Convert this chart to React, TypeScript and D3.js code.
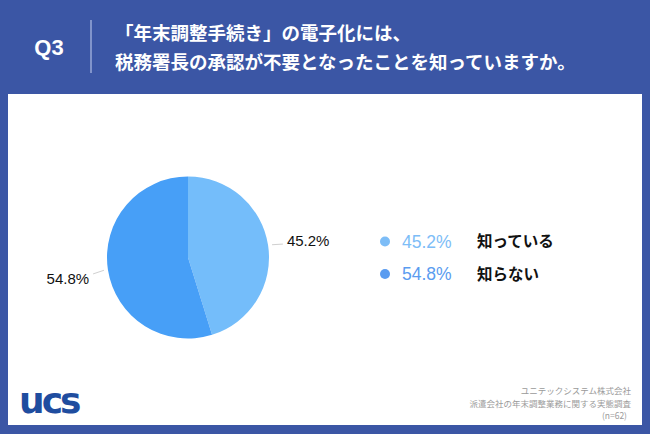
import React from "react";
import * as d3 from "d3";

const categories = ["知っている", "知らない"];
const values = [45.2, 54.8];
const titleLines = ["「年末調整手続き」の電子化には、", "税務署長の承認が不要となったことを知っていますか。"];
const questionLabel = "Q3";
const sourceLines = ["ユニテックシステム株式会社", "派遣会社の年末調整業務に関する実態調査", "(n=62)"];

const W = 650;
const H = 434;
const sliceColors = ["#74bdfa", "#479ff7"];
const legendColors = ["#7dbdf7", "#5a9cf0"];
const frame = "#3b56a5";
const cjk = "'Noto Sans CJK JP', 'Noto Sans', sans-serif";
const latin = "'Liberation Sans', Arial, sans-serif";

export default function App() {
  const cx = 188;
  const cy = 257.5;
  const r = 81;
  const pie = d3.pie<number>().sort(null).value((d) => d).startAngle(0).endAngle(2 * Math.PI);
  const arcs = pie(values);
  const arc = d3.arc<d3.PieArcDatum<number>>().innerRadius(0).outerRadius(r);
  const fmt = (v: number) => `${v.toFixed(1)}%`;

  return (
    <svg width={W} height={H} style={{ position: "absolute", left: 0, top: 0 }}>
      <rect x={0} y={0} width={W} height={H} fill={frame} />
      <rect x={8} y={94} width={634} height={331} fill="#ffffff" />
      <text x={49} y={55} textAnchor="middle" fill="#fff" fontFamily={latin} fontWeight={700} fontSize={22}>
        {questionLabel}
      </text>
      <line x1={91} x2={91} y1={20} y2={73} stroke="#9aaad8" strokeWidth={1.5} />
      {titleLines.map((t, i) => (
        <text key={i} x={115} y={40 + i * 29} fill="#fff" fontFamily={cjk} fontWeight={700} fontSize={18.5}>
          {t}
        </text>
      ))}
      <g transform={`translate(${cx},${cy})`}>
        {arcs.map((a, i) => (
          <path key={i} d={arc(a) || ""} fill={sliceColors[i]} />
        ))}
        {arcs.map((a, i) => {
          const mid = (a.startAngle + a.endAngle) / 2;
          const sx = Math.sin(mid);
          const sy = -Math.cos(mid);
          const x1 = sx * (r + 4);
          const y1 = sy * (r + 4);
          const x2 = sx * (r + 15);
          const y2 = sy * (r + 15) + (sx > 0 ? 1 : 2);
          const right = sx > 0;
          return (
            <g key={i}>
              <line x1={x1} y1={y1} x2={x2} y2={y2} stroke="#d0d0d0" strokeWidth={1} />
              <text
                x={right ? x2 + 4 : x2 - 4}
                y={right ? y2 + 2 : y2 + 10}
                textAnchor={right ? "start" : "end"}
                fill="#111"
                fontFamily={latin}
                fontSize={15}
              >
                {fmt(values[i])}
              </text>
            </g>
          );
        })}
      </g>
      {categories.map((c, i) => (
        <g key={i} transform={`translate(0,${241.5 + i * 32.5})`}>
          <circle cx={385} cy={0} r={5} fill={legendColors[i]} />
          <text x={402} y={6} fill={legendColors[i]} fontFamily={latin} fontSize={17.5}>
            {fmt(values[i])}
          </text>
          <text x={477} y={5.5} fill="#111" fontFamily={cjk} fontWeight={700} fontSize={15.5}>
            {c}
          </text>
        </g>
      ))}
      <text x={19} y={413} fill="#1f4d9f" fontFamily="'DejaVu Sans', sans-serif" fontWeight={900} fontSize={36} letterSpacing={-3}>
        ucs
      </text>
      {sourceLines.map((t, i) => (
        <text key={i} x={i === 2 ? 627 : 631} y={394 + i * 12.5} textAnchor="end" fill="#9a9a9a" fontFamily={cjk} fontSize={8.5}>
          {t}
        </text>
      ))}
    </svg>
  );
}
